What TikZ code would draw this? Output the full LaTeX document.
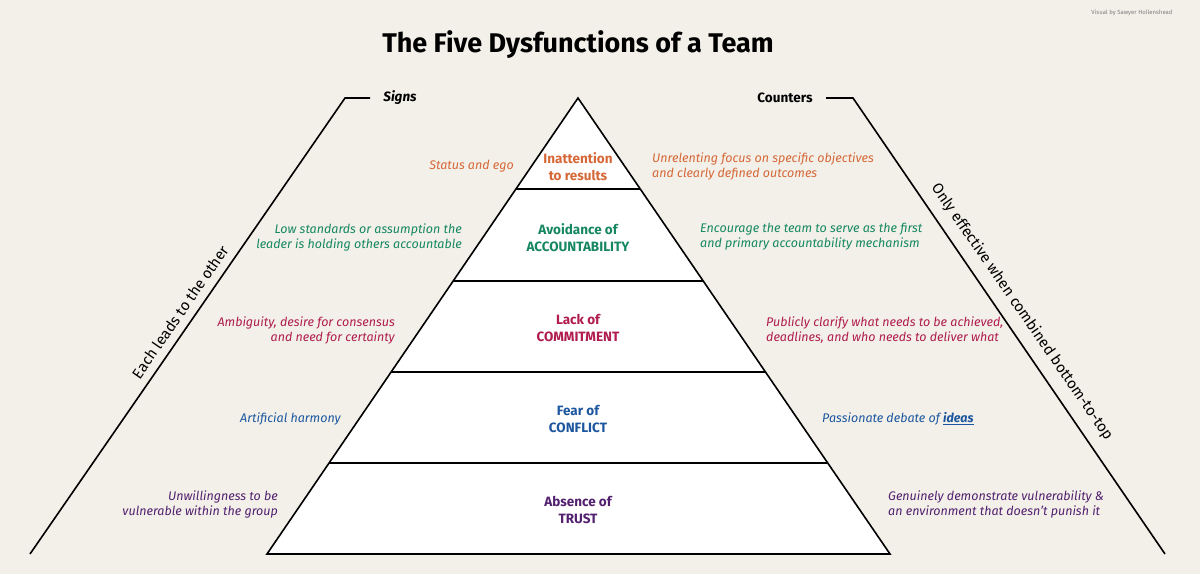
\documentclass[tikz,border=0pt]{standalone}
\usepackage{fontspec}
\setmainfont{Fira Sans}
\definecolor{bg}{RGB}{242,240,233}
\definecolor{corange}{RGB}{214,104,56}
\definecolor{cgreen}{RGB}{22,135,98}
\definecolor{cred}{RGB}{176,28,78}
\definecolor{cblue}{RGB}{28,86,158}
\definecolor{cpurple}{RGB}{82,32,110}
\begin{document}
\begin{tikzpicture}[x=1pt,y=-1pt,
  lab/.style={font=\fontsize{12.5}{15}\selectfont\itshape,inner sep=0pt},
  llab/.style={lab,anchor=east,align=right},
  rlab/.style={lab,anchor=west,align=left},
  clab/.style={font=\fontsize{13.5}{17}\selectfont\bfseries,align=center,inner sep=0pt},
  line/.style={line width=1.6pt,black}]
\fill[bg] (0,0) rectangle (1200,574);
\useasboundingbox (0,0) rectangle (1200,574);
\coordinate (apex) at (578,98);
\coordinate (bl) at (267,554);
\coordinate (br) at (890,554);
\fill[white] (apex)--(bl)--(br)--cycle;
\draw[line,line join=miter] (apex)--(bl)--(br)--cycle;
\foreach \y/\xl/\xr in {189/516/640,281/453/703,372/391/765,463/329/827}
  \draw[line] (\xl,\y)--(\xr,\y);
\coordinate (lb) at (30,554); \coordinate (lt) at (345,98); \coordinate (le) at (370,98);
\coordinate (rb) at (1165,554); \coordinate (rt) at (853,98); \coordinate (re) at (826,98);
\draw[line] (lb)--(lt)--(le);
\draw[line] (rb)--(rt)--(re);
\node[font=\fontsize{27}{30}\selectfont\bfseries] (title) at (578,45) {The Five Dysfunctions of a Team};
\node[font=\fontsize{6}{7}\selectfont,text=gray] (credit) at (1132,13) {Visual by Sawyer Hollenshead};
\node[font=\fontsize{13.5}{16}\selectfont\bfseries\itshape] (signs) at (400,98) {Signs};
\node[font=\fontsize{13.5}{16}\selectfont\bfseries] (counters) at (785,98) {Counters};
\node[font=\fontsize{15}{18}\selectfont,rotate=55.4] (each) at (180,312) {Each leads to the other};
\node[font=\fontsize{15}{18}\selectfont,rotate=-55.4] (only) at (1022,312) {Only effective when combined bottom-to-top};
% centre
\node[clab,text=corange] (c1) at (578,167) {Inattention\\to results};
\node[clab,text=cgreen] (c2) at (578,238) {Avoidance of\\ACCOUNTABILITY};
\node[clab,text=cred] (c3) at (578,328) {Lack of\\COMMITMENT};
\node[clab,text=cblue] (c4) at (578,419) {Fear of\\CONFLICT};
\node[clab,text=cpurple] (c5) at (578,510) {Absence of\\TRUST};
% signs
\node[llab,text=corange] (s1) at (514,166) {Status and ego};
\node[llab,text=cgreen] (s2) at (462,237) {Low standards or assumption the\\leader is holding others accountable};
\node[llab,text=cred] (s3) at (395,330) {Ambiguity, desire for consensus\\and need for certainty};
\node[llab,text=cblue] (s4) at (341,419) {Artificial harmony};
\node[llab,text=cpurple] (s5) at (278,504) {Unwillingness to be\\vulnerable within the group};
% counters
\node[rlab,text=corange] (k1) at (652,166) {Unrelenting focus on specific objectives\\and clearly defined outcomes};
\node[rlab,text=cgreen] (k2) at (700,237) {Encourage the team to serve as the first\\and primary accountability mechanism};
\node[rlab,text=cred] (k3) at (766,330) {Publicly clarify what needs to be achieved,\\deadlines, and who needs to deliver what};
\node[rlab,text=cblue] (k4) at (822,419) {Passionate debate of \underline{\bfseries ideas}};
\node[rlab,text=cpurple] (k5) at (888,504) {Genuinely demonstrate vulnerability \&\\an environment that doesn't punish it};
\end{tikzpicture}
\end{document}
